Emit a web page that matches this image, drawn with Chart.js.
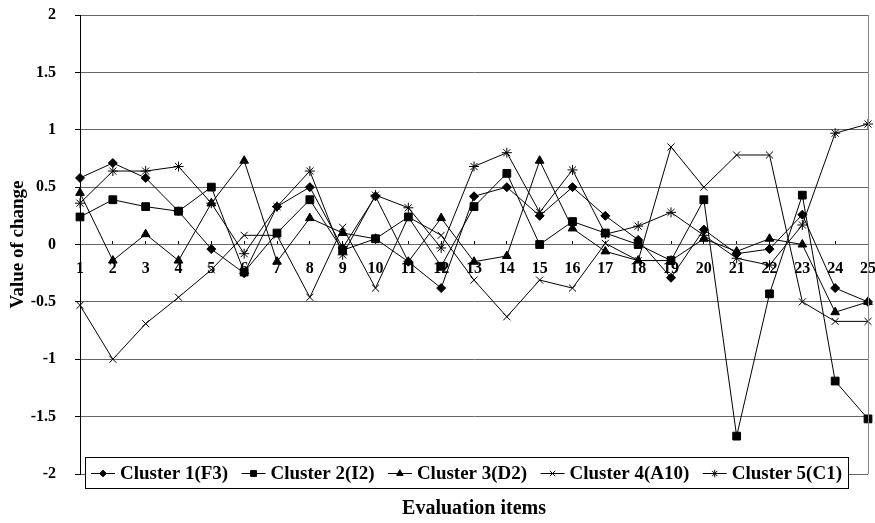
<!DOCTYPE html>
<html>
<head>
<meta charset="utf-8">
<script src="https://cdn.jsdelivr.net/npm/chart.js@4.4.1/dist/chart.umd.min.js"></script>
<style>
  html, body { margin: 0; padding: 0; background: #fff; }
</style>
</head>
<body>
<canvas id="clusterChart" width="875" height="523"></canvas>
<script>
  // evaluation items 1..25
  const items = ['1','2','3','4','5','6','7','8','9','10','11','12','13','14','15','16','17','18','19','20','21','22','23','24','25'];

  const cluster1 = [0.58, 0.71, 0.58, 0.29, -0.04, -0.25, 0.33, 0.50, -0.03, 0.42, -0.15, -0.38, 0.42, 0.50, 0.25, 0.50, 0.25, 0.04, -0.29, 0.13, -0.08, -0.04, 0.26, -0.38, -0.50];
  const cluster2 = [0.24, 0.39, 0.33, 0.29, 0.50, -0.24, 0.10, 0.39, -0.05, 0.05, 0.24, -0.19, 0.33, 0.62, 0.00, 0.20, 0.10, 0.00, -0.14, 0.39, -1.67, -0.43, 0.43, -1.19, -1.52];
  const cluster3 = [0.45, -0.14, 0.09, -0.14, 0.36, 0.73, -0.15, 0.23, 0.10, 0.05, -0.15, 0.23, -0.15, -0.10, 0.73, 0.14, -0.06, -0.14, -0.14, 0.05, -0.06, 0.05, 0.00, -0.59, -0.50];
  const cluster4 = [-0.53, -1.00, -0.69, -0.46, -0.22, 0.08, 0.08, -0.46, 0.15, -0.38, 0.24, 0.08, -0.31, -0.63, -0.31, -0.38, 0.01, -0.14, 0.85, 0.50, 0.78, 0.78, -0.50, -0.67, -0.67];
  const cluster5 = [0.36, 0.64, 0.64, 0.68, 0.36, -0.08, 0.33, 0.64, -0.09, 0.43, 0.32, -0.03, 0.68, 0.80, 0.28, 0.65, 0.09, 0.16, 0.28, 0.08, -0.12, -0.18, 0.17, 0.97, 1.05];

  const seriesNames = ['Cluster 1(F3)', 'Cluster 2(I2)', 'Cluster 3(D2)', 'Cluster 4(A10)', 'Cluster 5(C1)'];
  const yTicks = [-2, -1.5, -1, -0.5, 0, 0.5, 1, 1.5, 2];

  const serif = "'Liberation Serif', 'Times New Roman', serif";

  const series = [cluster1, cluster2, cluster3, cluster4, cluster5];
  const markers = [
    { style: 'rectRot', r: 4.5 },
    { style: 'rect', r: 5.5 },
    { style: 'triangle', r: 5 },
    { style: 'crossRot', r: 5 },
    { style: 'star', r: 5 }
  ];

  const datasets = series.map((vals, i) => ({
    label: seriesNames[i],
    data: vals,
    borderColor: '#000',
    borderWidth: 1,
    backgroundColor: '#000',
    pointStyle: markers[i].style,
    pointRadius: markers[i].r,
    pointBorderWidth: 1,
    pointBackgroundColor: '#000',
    pointBorderColor: '#000',
    tension: 0,
    fill: false
  }));

  // legend box sitting on the -2 line, plus right frame line
  const keyBox = {
    id: 'keyBox',
    afterDraw(chart) {
      const { ctx, chartArea } = chart;
      ctx.save();
      ctx.strokeStyle = '#888';
      ctx.lineWidth = 1;
      ctx.beginPath();
      ctx.moveTo(Math.round(chartArea.right) + 0.5, chartArea.top);
      ctx.lineTo(Math.round(chartArea.right) + 0.5, chartArea.bottom);
      ctx.stroke();

      const cy = Math.round(chart.scales.y.getPixelForValue(-2)) - 1;
      const left = 85, right = 848, top = cy - 16, bottom = cy + 15;
      ctx.fillStyle = '#fff';
      ctx.fillRect(left, top, right - left, bottom - top);
      ctx.strokeStyle = '#000';
      ctx.strokeRect(left + 0.5, top + 0.5, right - left, bottom - top);

      ctx.font = 'bold 19px ' + serif;
      ctx.textBaseline = 'middle';
      const lineLen = 24, gapText = 5, pad = 6;
      const widths = chart.data.datasets.map(ds => ctx.measureText(ds.label).width);
      const used = widths.reduce((a, b) => a + b, 0) + chart.data.datasets.length * (lineLen + gapText);
      const gap = (right - left - 2 * pad - used) / (chart.data.datasets.length - 1);
      let x = left + pad;
      chart.data.datasets.forEach((ds, i) => {
        ctx.strokeStyle = '#000';
        ctx.fillStyle = '#000';
        ctx.lineWidth = 1;
        ctx.beginPath();
        ctx.moveTo(x, cy + 0.5);
        ctx.lineTo(x + lineLen, cy + 0.5);
        ctx.stroke();
        Chart.helpers.drawPoint(ctx, { pointStyle: ds.pointStyle, radius: ds.pointRadius * 0.75, borderWidth: 1, rotation: 0 }, x + lineLen / 2, cy + 0.5);
        ctx.fillStyle = '#000';
        ctx.fillText(ds.label, x + lineLen + gapText, cy + 1);
        x += lineLen + gapText + widths[i] + gap;
      });
      ctx.restore();
    }
  };

  new Chart(document.getElementById('clusterChart'), {
    type: 'line',
    data: { labels: items, datasets },
    plugins: [keyBox],
    options: {
      responsive: false,
      animation: false,
      layout: { padding: { top: 15, right: 7, left: 0, bottom: 0 } },
      plugins: {
        legend: { display: false },
        tooltip: { enabled: false },
        title: {
          display: true,
          fullSize: false,
          position: 'bottom',
          text: 'Evaluation items',
          color: '#000',
          font: { family: serif, size: 20, weight: 'bold' },
          padding: { top: 23, bottom: 2 }
        }
      },
      scales: {
        x: {
          type: 'category',
          position: { y: 0 },
          afterFit(scale) { scale.paddingLeft = 0; scale.paddingRight = 0; },
          border: { display: false },
          grid: { drawOnChartArea: false, drawTicks: true, tickLength: -4, color: '#000' },
          ticks: {
            color: '#000',
            autoSkip: false,
            maxRotation: 0,
            padding: 19,
            font: { family: serif, size: 16, weight: 'bold' }
          }
        },
        y: {
          min: -2,
          max: 2,
          afterFit(scale) { scale.width = 80; scale.paddingTop = 0; scale.paddingBottom = 0; },
          afterBuildTicks(scale) { scale.ticks = yTicks.map(v => ({ value: v })); },
          border: { display: true, color: '#000', width: 1 },
          grid: { color: '#666', lineWidth: 1, tickLength: 5, tickColor: '#000' },
          ticks: {
            color: '#000',
            padding: 19,
            font: { family: serif, size: 16, weight: 'bold' },
            callback: v => String(v)
          },
          title: {
            display: true,
            text: 'Value of change',
            color: '#000',
            font: { family: serif, size: 19, weight: 'bold' },
            padding: { top: 7, bottom: 0 }
          }
        }
      }
    }
  });
</script>
</body>
</html>
